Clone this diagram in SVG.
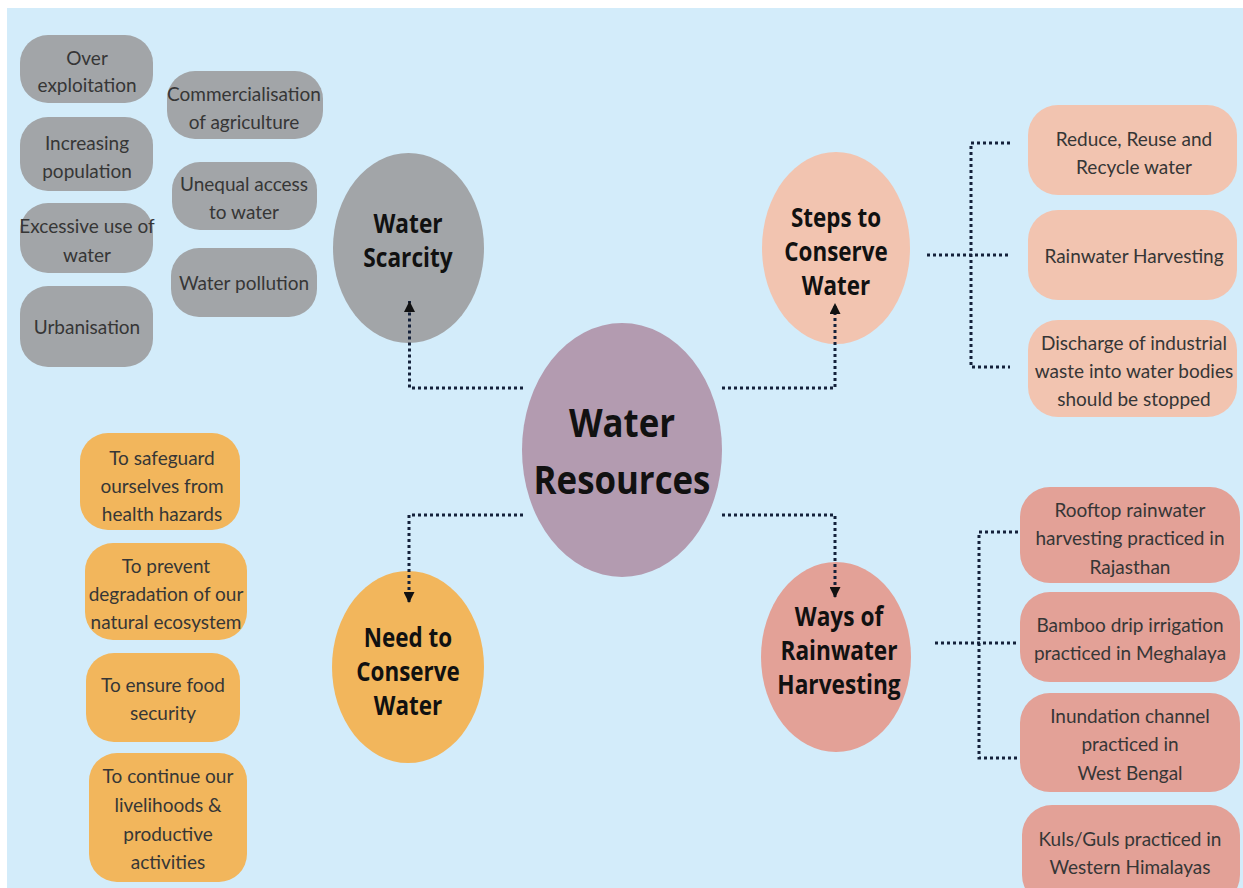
<svg xmlns="http://www.w3.org/2000/svg" width="1243" height="888" viewBox="0 0 1243 888">
<defs>
<style>
.bg{fill:#d3ecfa}
.gray{fill:#a2a5a8}
.peach{fill:#f2c4b0}
.orange{fill:#f2b65c}
.red{fill:#e3a197}
.purple{fill:#b39bb0}
.t{font-family:Lato,"Liberation Sans",sans-serif;font-size:19px;fill:#363636;text-anchor:middle}
.b{font-family:"Open Sans","Liberation Sans",sans-serif;font-weight:700;font-size:27px;fill:#111;text-anchor:middle}
.bc{font-family:"Open Sans","Liberation Sans",sans-serif;font-weight:700;font-size:40px;fill:#111;text-anchor:middle}
.dot{fill:none;stroke:#14213a;stroke-width:3;stroke-dasharray:3 3}
</style>
<marker id="ah" markerUnits="userSpaceOnUse" viewBox="0 0 10 10" refX="10" refY="5" markerWidth="11" markerHeight="11" orient="auto">
<path d="M0,0 L10,5 L0,10 z" fill="#111"/>
</marker>
</defs>
<rect x="0" y="0" width="1243" height="888" fill="#ffffff"/>
<rect class="bg" x="7" y="8" width="1236" height="880"/>

<g id="water-resources">
<ellipse class="purple" cx="622" cy="450" rx="100" ry="127"/>
<g transform="translate(622,0) scale(0.87,1)">
<text class="bc" x="0" y="437">Water</text>
<text class="bc" x="0" y="494">Resources</text>
</g>
</g>

<g id="water-scarcity">
<ellipse class="gray" cx="408.5" cy="248" rx="75.5" ry="95"/>
<g transform="translate(408,0) scale(0.84,1)">
<text class="b" x="0" y="233">Water</text>
<text class="b" x="0" y="267">Scarcity</text>
</g>
</g>

<g id="steps-to-conserve">
<ellipse class="peach" cx="836" cy="248" rx="74" ry="96"/>
<g transform="translate(836,0) scale(0.83,1)">
<text class="b" x="0" y="227">Steps to</text>
<text class="b" x="0" y="261">Conserve</text>
<text class="b" x="0" y="295">Water</text>
</g>
</g>

<g id="need-to-conserve">
<ellipse class="orange" cx="408" cy="667" rx="76" ry="96"/>
<g transform="translate(408,0) scale(0.83,1)">
<text class="b" x="0" y="647">Need to</text>
<text class="b" x="0" y="681">Conserve</text>
<text class="b" x="0" y="715">Water</text>
</g>
</g>

<g id="ways-of-harvesting">
<ellipse class="red" cx="836" cy="657" rx="75" ry="95"/>
<g transform="translate(839,0) scale(0.84,1)">
<text class="b" x="0" y="626">Ways of</text>
<text class="b" x="0" y="660">Rainwater</text>
<text class="b" x="0" y="694">Harvesting</text>
</g>
</g>

<g id="over-exploitation">
<rect class="gray" x="20" y="35" width="133" height="68" rx="28"/>
<text class="t" x="87" y="65">Over</text>
<text class="t" x="87" y="92">exploitation</text>
</g>
<g id="increasing-population">
<rect class="gray" x="20" y="117" width="133" height="74" rx="28"/>
<text class="t" x="87" y="150">Increasing</text>
<text class="t" x="87" y="178">population</text>
</g>
<g id="excessive-use">
<rect class="gray" x="20" y="203" width="133" height="70" rx="28"/>
<text class="t" x="87" y="233">Excessive use of</text>
<text class="t" x="87" y="262">water</text>
</g>
<g id="urbanisation">
<rect class="gray" x="20" y="286" width="133" height="81" rx="28"/>
<text class="t" x="87" y="334">Urbanisation</text>
</g>
<g id="commercialisation">
<rect class="gray" x="167" y="71" width="156" height="68" rx="28"/>
<text class="t" x="244" y="101">Commercialisation</text>
<text class="t" x="244" y="129">of agriculture</text>
</g>
<g id="unequal-access">
<rect class="gray" x="172" y="162" width="145" height="68" rx="28"/>
<text class="t" x="244" y="191">Unequal access</text>
<text class="t" x="244" y="219">to water</text>
</g>
<g id="water-pollution">
<rect class="gray" x="171" y="248" width="146" height="69" rx="28"/>
<text class="t" x="244" y="290">Water pollution</text>
</g>

<g id="reduce-reuse">
<rect class="peach" x="1028" y="105" width="209" height="90" rx="30"/>
<text class="t" x="1134" y="146">Reduce, Reuse and</text>
<text class="t" x="1134" y="174">Recycle water</text>
</g>
<g id="rainwater-harvesting">
<rect class="peach" x="1028" y="210" width="209" height="90" rx="30"/>
<text class="t" x="1134" y="263">Rainwater Harvesting</text>
</g>
<g id="discharge">
<rect class="peach" x="1028" y="320" width="209" height="97" rx="30"/>
<text class="t" x="1134" y="350">Discharge of industrial</text>
<text class="t" x="1134" y="378">waste into water bodies</text>
<text class="t" x="1134" y="406">should be stopped</text>
</g>

<g id="safeguard">
<rect class="orange" x="80" y="433" width="160" height="97" rx="28"/>
<text class="t" x="162" y="465">To safeguard</text>
<text class="t" x="162" y="493">ourselves from</text>
<text class="t" x="162" y="521">health hazards</text>
</g>
<g id="prevent-degradation">
<rect class="orange" x="85" y="543" width="162" height="97" rx="28"/>
<text class="t" x="166" y="573">To prevent</text>
<text class="t" x="166" y="601">degradation of our</text>
<text class="t" x="166" y="629">natural ecosystem</text>
</g>
<g id="food-security">
<rect class="orange" x="86" y="653" width="154" height="89" rx="28"/>
<text class="t" x="163" y="692">To ensure food</text>
<text class="t" x="163" y="720">security</text>
</g>
<g id="livelihoods">
<rect class="orange" x="89" y="753" width="158" height="129" rx="28"/>
<text class="t" x="168" y="783">To continue our</text>
<text class="t" x="168" y="812">livelihoods &amp;</text>
<text class="t" x="168" y="841">productive</text>
<text class="t" x="168" y="869">activities</text>
</g>

<g id="rooftop">
<rect class="red" x="1020" y="487" width="220" height="96" rx="30"/>
<text class="t" x="1130" y="517">Rooftop rainwater</text>
<text class="t" x="1130" y="545">harvesting practiced in</text>
<text class="t" x="1130" y="574">Rajasthan</text>
</g>
<g id="bamboo">
<rect class="red" x="1020" y="592" width="220" height="90" rx="30"/>
<text class="t" x="1130" y="632">Bamboo drip irrigation</text>
<text class="t" x="1130" y="660">practiced in Meghalaya</text>
</g>
<g id="inundation">
<rect class="red" x="1020" y="693" width="220" height="99" rx="30"/>
<text class="t" x="1130" y="723">Inundation channel</text>
<text class="t" x="1130" y="751">practiced in</text>
<text class="t" x="1130" y="780">West Bengal</text>
</g>
<g id="kuls-guls">
<rect class="red" x="1022" y="805" width="218" height="100" rx="30"/>
<text class="t" x="1130" y="846">Kuls/Guls practiced in</text>
<text class="t" x="1130" y="874">Western Himalayas</text>
</g>

<g id="connectors">
<path class="dot" d="M523,388 H409.5 V301" marker-end="url(#ah)"/>
<path class="dot" d="M722,388 H835 V303" marker-end="url(#ah)"/>
<path class="dot" d="M523,515 H409 V603" marker-end="url(#ah)"/>
<path class="dot" d="M722,515 H835 V598" marker-end="url(#ah)"/>
<path class="dot" d="M1010,143 H971 V367 H1010"/>
<path class="dot" d="M927,255 H1010"/>
<path class="dot" d="M1018,532 H979 V758 H1018"/>
<path class="dot" d="M935,643 H1018"/>
</g>
</svg>
